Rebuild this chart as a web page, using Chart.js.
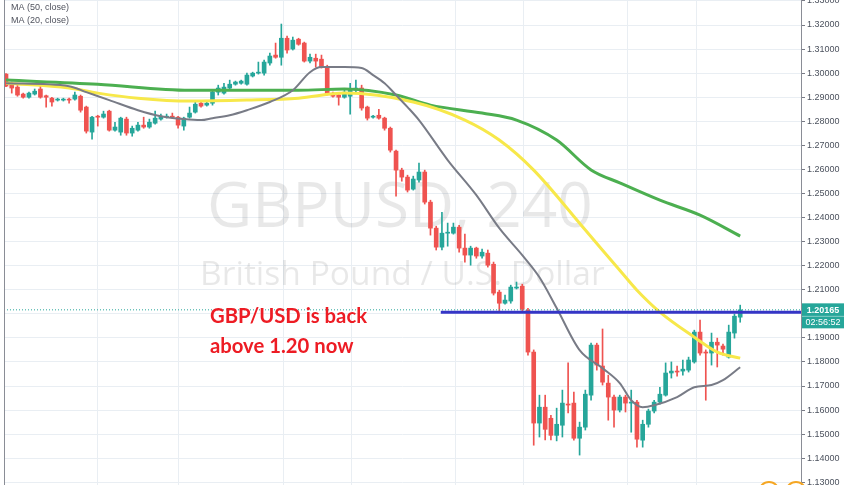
<!DOCTYPE html>
<html>
<head>
<meta charset="utf-8">
<title>GBPUSD, 240</title>
<script src="https://cdn.jsdelivr.net/npm/chart.js@4.4.1/dist/chart.umd.min.js"></script>
<style>
  html, body { margin: 0; padding: 0; background: #fff; }
  #wrap { width: 852px; height: 485px; }
</style>
</head>
<body>
<div id="wrap"><canvas id="gbpChart" width="852" height="485"></canvas></div>
<script>
// 4h candles, oldest first
const openPrices = [
  1.2996, 1.2954, 1.2942, 1.2913, 1.2900, 1.2913, 1.2934, 1.2906, 1.2896, 1.2888,
  1.2888, 1.2892, 1.2892, 1.2904, 1.2859, 1.2755, 1.2821, 1.2817, 1.2842, 1.2763,
  1.2755, 1.2809, 1.2751, 1.2763, 1.2784, 1.2776, 1.2792, 1.2809, 1.2817, 1.2821,
  1.2817, 1.2780, 1.2817, 1.2838, 1.2875, 1.2867, 1.2875, 1.2921, 1.2917, 1.2938,
  1.2954, 1.2958, 1.2954, 1.2988, 1.3000, 1.3000, 1.3042, 1.3075, 1.3066, 1.3145,
  1.3100, 1.3141, 1.3125, 1.3050, 1.3062, 1.3058, 1.3025, 1.2917, 1.2909, 1.2900,
  1.2904, 1.2929, 1.2938, 1.2859, 1.2817, 1.2825, 1.2813, 1.2771, 1.2676, 1.2597,
  1.2568, 1.2518, 1.2556, 1.2589, 1.2464, 1.2356, 1.2277, 1.2335, 1.2335, 1.2360,
  1.2273, 1.2244, 1.2273, 1.2240, 1.2252, 1.2206, 1.2090, 1.2044, 1.2053, 1.2107,
  1.2115, 1.2015, 1.1841, 1.1546, 1.1612, 1.1566, 1.1495, 1.1537, 1.1625, 1.1629,
  1.1483, 1.1529, 1.1662, 1.1870, 1.1783, 1.1712, 1.1654, 1.1600, 1.1654, 1.1629,
  1.1633, 1.1475, 1.1541, 1.1596, 1.1633, 1.1662, 1.1754, 1.1762, 1.1762, 1.1766,
  1.1800, 1.1924, 1.1841, 1.1837, 1.1882, 1.1866, 1.1820, 1.1920, 1.1986
];
const highPrices = [
  1.2998, 1.2963, 1.2950, 1.2917, 1.2921, 1.2934, 1.2946, 1.2909, 1.2900, 1.2896,
  1.2896, 1.2896, 1.2921, 1.2909, 1.2863, 1.2821, 1.2825, 1.2842, 1.2846, 1.2796,
  1.2817, 1.2817, 1.2780, 1.2796, 1.2817, 1.2809, 1.2842, 1.2830, 1.2830, 1.2834,
  1.2821, 1.2817, 1.2859, 1.2880, 1.2880, 1.2884, 1.2929, 1.2950, 1.2958, 1.2971,
  1.2967, 1.2971, 1.3000, 1.3004, 1.3046, 1.3054, 1.3083, 1.3125, 1.3204, 1.3154,
  1.3150, 1.3145, 1.3129, 1.3079, 1.3079, 1.3075, 1.3033, 1.2921, 1.2913, 1.2929,
  1.2958, 1.2971, 1.2950, 1.2863, 1.2825, 1.2850, 1.2817, 1.2776, 1.2680, 1.2605,
  1.2576, 1.2572, 1.2626, 1.2597, 1.2472, 1.2364, 1.2422, 1.2377, 1.2377, 1.2368,
  1.2331, 1.2281, 1.2277, 1.2269, 1.2265, 1.2215, 1.2098, 1.2078, 1.2119, 1.2132,
  1.2123, 1.2023, 1.1850, 1.1662, 1.1662, 1.1578, 1.1608, 1.1683, 1.1796, 1.1675,
  1.1550, 1.1683, 1.1878, 1.1878, 1.1937, 1.1745, 1.1662, 1.1662, 1.1662, 1.1683,
  1.1641, 1.1558, 1.1604, 1.1641, 1.1695, 1.1796, 1.1800, 1.1783, 1.1808, 1.1820,
  1.1932, 1.1974, 1.1850, 1.1920, 1.1899, 1.1874, 1.1953, 1.1999, 1.2036
];
const lowPrices = [
  1.2944, 1.2917, 1.2904, 1.2896, 1.2896, 1.2909, 1.2896, 1.2859, 1.2863, 1.2884,
  1.2884, 1.2875, 1.2888, 1.2838, 1.2751, 1.2726, 1.2780, 1.2813, 1.2759, 1.2759,
  1.2742, 1.2742, 1.2738, 1.2759, 1.2771, 1.2771, 1.2788, 1.2805, 1.2813, 1.2813,
  1.2771, 1.2763, 1.2813, 1.2834, 1.2859, 1.2863, 1.2867, 1.2909, 1.2913, 1.2934,
  1.2950, 1.2954, 1.2950, 1.2984, 1.2996, 1.2992, 1.3033, 1.3062, 1.3033, 1.3083,
  1.3096, 1.3116, 1.3046, 1.3042, 1.3025, 1.3021, 1.2909, 1.2900, 1.2867, 1.2896,
  1.2830, 1.2917, 1.2846, 1.2805, 1.2813, 1.2809, 1.2763, 1.2672, 1.2489, 1.2551,
  1.2506, 1.2514, 1.2547, 1.2456, 1.2327, 1.2265, 1.2265, 1.2281, 1.2331, 1.2256,
  1.2215, 1.2202, 1.2231, 1.2231, 1.2194, 1.2078, 1.2007, 1.2040, 1.2044, 1.2103,
  1.2007, 1.1828, 1.1454, 1.1488, 1.1476, 1.1476, 1.1472, 1.1488, 1.1588, 1.1475,
  1.1413, 1.1517, 1.1641, 1.1766, 1.1704, 1.1558, 1.1529, 1.1592, 1.1592, 1.1508,
  1.1446, 1.1446, 1.1529, 1.1588, 1.1625, 1.1658, 1.1733, 1.1741, 1.1745, 1.1758,
  1.1795, 1.1828, 1.1641, 1.1787, 1.1779, 1.1828, 1.1816, 1.1899, 1.1965
];
const closePrices = [
  1.2946, 1.2938, 1.2909, 1.2900, 1.2917, 1.2925, 1.2900, 1.2900, 1.2880, 1.2892,
  1.2892, 1.2888, 1.2909, 1.2846, 1.2759, 1.2817, 1.2817, 1.2830, 1.2763, 1.2776,
  1.2813, 1.2751, 1.2771, 1.2784, 1.2776, 1.2796, 1.2813, 1.2821, 1.2821, 1.2817,
  1.2784, 1.2813, 1.2834, 1.2871, 1.2863, 1.2875, 1.2921, 1.2938, 1.2942, 1.2954,
  1.2963, 1.2967, 1.2992, 1.3000, 1.3004, 1.3046, 1.3071, 1.3066, 1.3145, 1.3096,
  1.3137, 1.3120, 1.3050, 1.3066, 1.3050, 1.3025, 1.2913, 1.2904, 1.2900, 1.2921,
  1.2929, 1.2938, 1.2855, 1.2813, 1.2821, 1.2813, 1.2771, 1.2680, 1.2597, 1.2568,
  1.2514, 1.2560, 1.2589, 1.2464, 1.2356, 1.2277, 1.2335, 1.2339, 1.2360, 1.2273,
  1.2244, 1.2273, 1.2240, 1.2256, 1.2202, 1.2086, 1.2044, 1.2057, 1.2111, 1.2111,
  1.2019, 1.1841, 1.1546, 1.1612, 1.1520, 1.1495, 1.1541, 1.1629, 1.1621, 1.1483,
  1.1529, 1.1666, 1.1870, 1.1787, 1.1716, 1.1654, 1.1600, 1.1654, 1.1629, 1.1633,
  1.1479, 1.1541, 1.1596, 1.1633, 1.1666, 1.1754, 1.1762, 1.1758, 1.1770, 1.1808,
  1.1924, 1.1837, 1.1837, 1.1882, 1.1870, 1.1853, 1.1924, 1.1990, 1.20165
];

// moving averages, read at a few bars each (bar index -> value)
const ma100Bars = [0, 16, 32, 42, 51, 59, 68, 74, 83, 89, 96, 102, 107, 114, 121, 128];
const ma100 = [1.2971, 1.2954, 1.2929, 1.2929, 1.2929, 1.2934, 1.2909, 1.2867, 1.2834, 1.2805, 1.2722, 1.2598, 1.2544, 1.2472, 1.2410, 1.2323];
const ma50Bars = [0, 11, 16, 23, 32, 42, 51, 59, 71, 80, 86, 92, 101, 107, 110, 114, 120, 124, 128];
const ma50 = [1.2958, 1.2938, 1.2917, 1.2896, 1.2884, 1.2888, 1.2896, 1.2917, 1.2880, 1.2805, 1.2722, 1.2597, 1.2348, 1.2181, 1.2098, 1.2007, 1.1903, 1.1841, 1.1816];
const ma20Bars = [0, 11, 14, 18, 23, 27, 31, 34, 36, 39, 42, 46, 50, 53, 55, 59, 62, 64, 66, 68, 70, 72, 77, 82, 86, 90, 93, 96, 100, 104, 107, 109, 111, 113, 117, 120, 123, 125, 128];
const ma20 = [1.2958, 1.2946, 1.2921, 1.2888, 1.2846, 1.2821, 1.2809, 1.2805, 1.2813, 1.2825, 1.2846, 1.2880, 1.2929, 1.3004, 1.3025, 1.3025, 1.3021, 1.2992, 1.2958, 1.2909, 1.2859, 1.2805, 1.2639, 1.2493, 1.2356, 1.2244, 1.2152, 1.2024, 1.1849, 1.1774, 1.1712, 1.1641, 1.1612, 1.1620, 1.1654, 1.1695, 1.1704, 1.1724, 1.1778];

const priceTicks = [1.13, 1.14, 1.15, 1.16, 1.17, 1.18, 1.19, 1.20, 1.21, 1.22, 1.23,
                    1.24, 1.25, 1.26, 1.27, 1.28, 1.29, 1.30, 1.31, 1.32, 1.33];
const sessionBars = [16, 30, 48.3, 60.3, 78.3, 90.3, 108.3, 120.3]; // vertical grid lines

const symbolTitle = 'GBPUSD, 240';
const symbolName = 'British Pound / U.S. Dollar';
const legendLabels = ['MA (100, close)', 'MA (50, close)', 'MA (20, close)'];
const noteLines = ['GBP/USD is back', 'above 1.20 now'];
const levelPrice = 1.2006;   // drawn support/resistance line
const levelFromBar = 75.8;
const lastPrice = 1.20165;
const countdown = '02:56:52';

const UP = '#26a69a';
const DOWN = '#ef5350';
const X_MIN = -0.35, X_MAX = 138.6;

const candleColors = closePrices.map((c, i) => c >= openPrices[i] ? UP : DOWN);
const bodies = closePrices.map((c, i) => ({ x: i, y: [openPrices[i], c] }));
const wicks = highPrices.map((h, i) => ({ x: i, y: [lowPrices[i], h] }));

function fitFont(ctx, text, width, weight, family) {
  ctx.font = weight + ' 100px "' + family + '"';
  const size = 100 * width / ctx.measureText(text).width;
  ctx.font = weight + ' ' + size.toFixed(2) + 'px "' + family + '"';
}

const overlay = {
  id: 'overlay',
  beforeDatasetsDraw(chart) {
    const ctx = chart.ctx;
    ctx.save();
    ctx.fillStyle = 'rgba(0, 0, 0, 0.09)';
    ctx.textAlign = 'left';
    ctx.textBaseline = 'alphabetic';
    fitFont(ctx, symbolTitle, 386, 'normal', 'Open Sans');
    ctx.fillText(symbolTitle, 207, 227);
    fitFont(ctx, symbolName, 405, 'normal', 'Open Sans');
    ctx.fillText(symbolName, 200, 285);
    ctx.restore();
  },
  afterDraw(chart) {
    const { ctx, chartArea } = chart;
    const yScale = chart.scales.y;
    ctx.save();

    // pane border on the left
    ctx.strokeStyle = '#8a8d96';
    ctx.lineWidth = 1;
    ctx.beginPath();
    ctx.moveTo(chartArea.left + 0.5, 0);
    ctx.lineTo(chartArea.left + 0.5, chart.height);
    ctx.stroke();

    // indicator legend, top left
    ctx.fillStyle = '#50535e';
    ctx.font = '9px "Liberation Sans"';
    ctx.textBaseline = 'middle';
    legendLabels.forEach((t, k) => ctx.fillText(t, 11, -6 + k * 13.5));

    // note in red
    ctx.fillStyle = '#ed1c24';
    ctx.textBaseline = 'alphabetic';
    fitFont(ctx, noteLines[0], 157, 'bold', 'Lato');
    ctx.fillText(noteLines[0], 210, 323);
    ctx.fillText(noteLines[1], 210, 353);

    // last price tag on the axis
    const py = yScale.getPixelForValue(lastPrice);
    ctx.fillStyle = UP;
    ctx.fillRect(chartArea.right + 1, py - 6.5, 42, 25);
    ctx.strokeStyle = 'rgba(255,255,255,0.45)';
    ctx.beginPath();
    ctx.moveTo(chartArea.right + 1, py + 6.5);
    ctx.lineTo(chartArea.right + 43, py + 6.5);
    ctx.stroke();
    ctx.fillStyle = '#ffffff';
    ctx.textAlign = 'center';
    ctx.textBaseline = 'middle';
    ctx.font = 'bold 9px "Liberation Sans"';
    ctx.fillText(lastPrice.toFixed(5), chartArea.right + 22, py + 0.5);
    ctx.font = '9px "Liberation Sans"';
    ctx.fillText(countdown, chartArea.right + 22, py + 13);

    // event markers peeking at the bottom
    ctx.strokeStyle = '#f5a623';
    ctx.lineWidth = 2;
    [769, 796].forEach(cx => {
      ctx.beginPath();
      ctx.arc(cx, chart.height + 7, 10, Math.PI, 2 * Math.PI);
      ctx.stroke();
    });
    ctx.restore();
  }
};

const ctx = document.getElementById('gbpChart').getContext('2d');
const gbpChart = new Chart(ctx, {
  type: 'bar',
  data: {
    datasets: [
      {
        type: 'line', label: 'level',
        data: [{ x: levelFromBar, y: levelPrice }, { x: X_MAX, y: levelPrice }],
        borderColor: '#3535c6', borderWidth: 3, pointRadius: 0, order: 0
      },
      {
        type: 'line', label: 'last',
        data: [{ x: X_MIN, y: lastPrice }, { x: X_MAX, y: lastPrice }],
        borderColor: UP, borderWidth: 1, borderDash: [1, 2], pointRadius: 0, order: 0
      },
      {
        type: 'line', label: 'MA 20',
        data: ma20Bars.map((b, k) => ({ x: b, y: ma20[k] })),
        borderColor: '#787b86', borderWidth: 2, pointRadius: 0,
        cubicInterpolationMode: 'monotone', order: 1
      },
      {
        type: 'line', label: 'MA 50',
        data: ma50Bars.map((b, k) => ({ x: b, y: ma50[k] })),
        borderColor: '#f7e84a', borderWidth: 3, pointRadius: 0,
        cubicInterpolationMode: 'monotone', order: 1
      },
      {
        type: 'line', label: 'MA 100',
        data: ma100Bars.map((b, k) => ({ x: b, y: ma100[k] })),
        borderColor: '#4caf50', borderWidth: 3, pointRadius: 0,
        cubicInterpolationMode: 'monotone', order: 1
      },
      {
        label: 'body', data: bodies, backgroundColor: candleColors,
        barThickness: 4, minBarLength: 1, grouped: false, order: 2
      },
      {
        label: 'wick', data: wicks, backgroundColor: candleColors,
        barThickness: 1, grouped: false, order: 3
      }
    ]
  },
  options: {
    responsive: false,
    animation: false,
    layout: { padding: { left: 4, right: 0, top: 0, bottom: 0 } },
    plugins: { legend: { display: false }, tooltip: { enabled: false } },
    scales: {
      x: {
        type: 'linear', min: X_MIN, max: X_MAX, offset: false,
        ticks: { display: false },
        grid: { color: '#e9eef3', drawTicks: false, offset: false },
        border: { display: false },
        afterBuildTicks: s => { s.ticks = sessionBars.map(v => ({ value: v })); }
      },
      y: {
        position: 'right', min: 1.12887, max: 1.33039,
        ticks: {
          color: '#4c525e', padding: 2, autoSkip: false,
          font: { family: 'Liberation Sans', size: 9 },
          callback: v => Number(v).toFixed(5)
        },
        grid: { color: '#e9eef3', tickLength: 4, tickColor: '#787b86' },
        border: { color: '#8a8d96' },
        afterBuildTicks: s => { s.ticks = priceTicks.map(v => ({ value: v })); },
        afterFit: s => { s.width = 51; s.paddingTop = 0; s.paddingBottom = 0; }
      }
    }
  },
  plugins: [overlay]
});
</script>
</body>
</html>
